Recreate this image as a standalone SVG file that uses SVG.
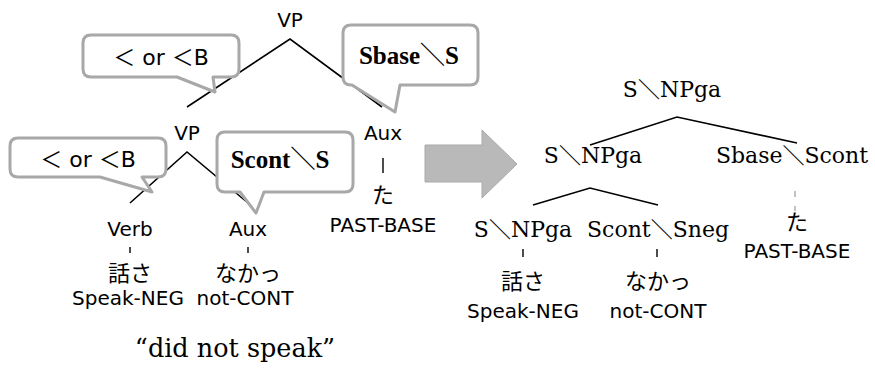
<svg xmlns="http://www.w3.org/2000/svg" width="875" height="377" viewBox="0 0 875 377">
  <style>
    .sans { font-family: "DejaVu Sans", "Noto Sans CJK JP", sans-serif; font-size: 20px; fill: #000; text-anchor: middle; }
    .label { font-family: "DejaVu Sans", "Noto Sans CJK JP", sans-serif; font-size: 22px; fill: #000; text-anchor: middle; }
    .jp { font-family: "Noto Sans CJK JP", sans-serif; font-size: 22px; fill: #000; text-anchor: middle; }
    .serif { font-family: "DejaVu Serif", "Noto Sans CJK JP", serif; font-size: 22px; fill: #000; text-anchor: middle; }
    .bold { font-family: "Liberation Serif", "Noto Sans CJK JP", serif; font-size: 25px; font-weight: bold; fill: #000; text-anchor: middle; }
    .quote { font-family: "DejaVu Serif", serif; font-size: 25.5px; fill: #000; text-anchor: middle; }
    .edge { stroke: #000; stroke-width: 1.6; fill: none; }
    .tick { stroke: #000; stroke-width: 1.4; fill: none; }
    .faint { stroke: #9a9a9a; stroke-width: 1.2; fill: none; stroke-dasharray: 6 9; }
    .callout { fill: #fff; stroke: #a8a8a8; stroke-width: 3; stroke-linejoin: round; }
    .arrow { fill: #b9b9b9; stroke: #a9a9a9; stroke-width: 1; }
  </style>

  <!-- tree edges -->
  <g id="connectors">
    <!-- left tree -->
    <polyline class="edge" points="187,107 290,39 382,107"/>
    <polyline class="edge" points="130,203 187,152 248,203"/>
    <line class="tick" x1="383" y1="158" x2="383" y2="173"/>
    <line class="tick" x1="130" y1="247" x2="130" y2="253"/>
    <line class="tick" x1="248" y1="247" x2="248" y2="253"/>
    <!-- right tree -->
    <polyline class="edge" points="590,145 677,117 797,143"/>
    <polyline class="edge" points="533,205 590,188 658,205"/>
    <line class="faint" x1="795" y1="191" x2="795" y2="211"/>
    <line class="tick" x1="523" y1="249" x2="523" y2="257"/>
    <line class="tick" x1="657" y1="249" x2="657" y2="257"/>
  </g>

  <!-- left tree nodes -->
  <g id="vp-top"><text class="sans" x="290" y="27">VP</text></g>
  <g id="vp-mid"><text class="sans" x="187" y="140">VP</text></g>
  <g id="aux-ta"><text class="sans" x="383" y="140">Aux</text></g>
  <g id="ta-left"><text class="jp" x="383" y="203">た</text></g>
  <g id="past-base-left"><text class="sans" x="383" y="232">PAST-BASE</text></g>
  <g id="verb"><text class="sans" x="130" y="236">Verb</text></g>
  <g id="aux-nakat"><text class="sans" x="248" y="236">Aux</text></g>
  <g id="hanasa-left"><text class="jp" x="130" y="281">話さ</text></g>
  <g id="nakat-left"><text class="jp" x="248" y="281">なかっ</text></g>
  <g id="gloss-speak-left"><text class="sans" x="128" y="305">Speak-NEG</text></g>
  <g id="gloss-not-left"><text class="sans" x="245" y="305">not-CONT</text></g>
  <g id="translation"><text class="quote" x="235" y="357">“did not speak”</text></g>

  <!-- callouts on the left tree -->
  <g id="callout-top-left">
    <path class="callout" d="M91,35 H231 Q239,35 239,43 V69 Q239,77 231,77 H213 L215,92 L177,77 H91 Q83,77 83,69 V43 Q83,35 91,35 Z"/>
    <text class="label" x="161" y="65">＜ or ＜B</text>
  </g>
  <g id="callout-top-right">
    <path class="callout" d="M351,25 H470 Q478,25 478,33 V77 Q478,85 470,85 H400 L395,112 L352,85 H351 Q343,85 343,77 V33 Q343,25 351,25 Z"/>
    <text class="bold" x="409" y="64">Sbase＼S</text>
  </g>
  <g id="callout-mid-left">
    <path class="callout" d="M18,138 H158 Q166,138 166,146 V169 Q166,177 158,177 H142 L152,192 L100,177 H18 Q10,177 10,169 V146 Q10,138 18,138 Z"/>
    <text class="label" x="88" y="167">＜ or ＜B</text>
  </g>
  <g id="callout-mid-right">
    <path class="callout" d="M225,132 H345 Q353,132 353,140 V184 Q353,192 345,192 H264 L256,213 L240,192 H225 Q217,192 217,184 V140 Q217,132 225,132 Z"/>
    <text class="bold" x="280" y="168">Scont＼S</text>
  </g>

  <!-- transformation arrow -->
  <g id="arrow">
    <polygon class="arrow" points="425,145 482,145 482,130 517,164 482,198 482,182 425,182"/>
  </g>

  <!-- right tree nodes -->
  <g id="s-npga-top"><text class="serif" x="672" y="97">S＼NPga</text></g>
  <g id="s-npga-mid"><text class="serif" x="593" y="163">S＼NPga</text></g>
  <g id="sbase-scont"><text class="serif" x="792" y="163">Sbase＼Scont</text></g>
  <g id="s-npga-low"><text class="serif" x="523" y="237">S＼NPga</text></g>
  <g id="scont-sneg"><text class="serif" x="658" y="237">Scont＼Sneg</text></g>
  <g id="ta-right"><text class="jp" x="797" y="230">た</text></g>
  <g id="past-base-right"><text class="sans" x="797" y="258">PAST-BASE</text></g>
  <g id="hanasa-right"><text class="jp" x="523" y="289">話さ</text></g>
  <g id="nakat-right"><text class="jp" x="658" y="289">なかっ</text></g>
  <g id="gloss-speak-right"><text class="sans" x="523" y="318">Speak-NEG</text></g>
  <g id="gloss-not-right"><text class="sans" x="658" y="318">not-CONT</text></g>
</svg>
